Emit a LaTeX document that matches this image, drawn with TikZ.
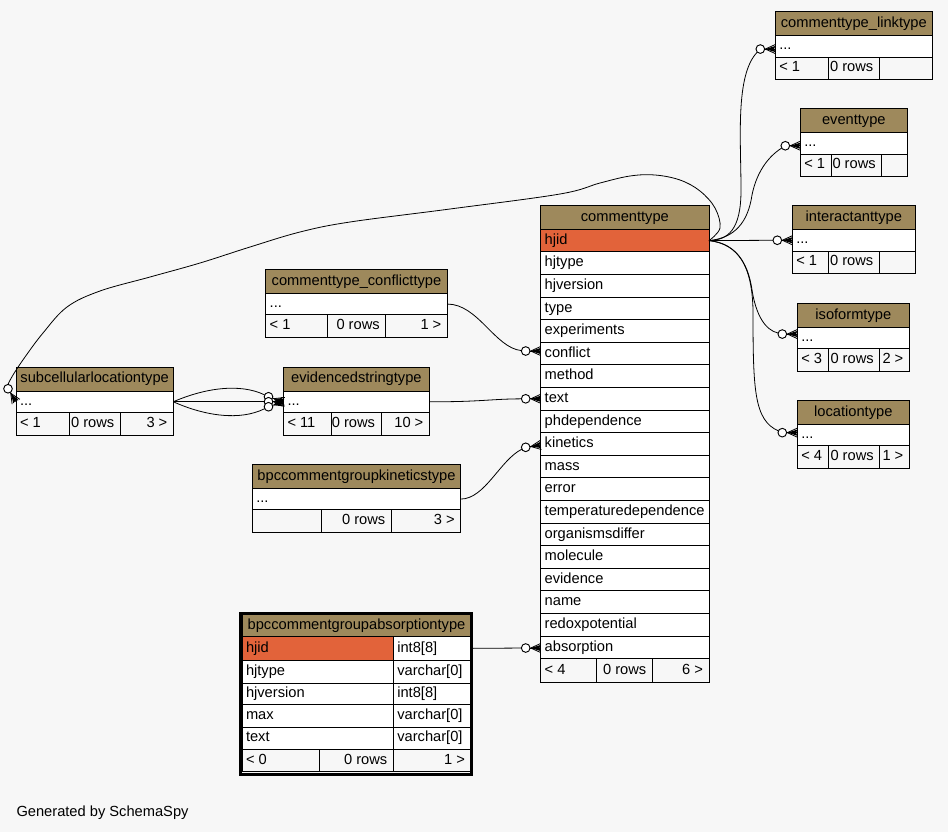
\documentclass[tikz,border=0pt]{standalone}
\usepackage{fontspec}
\setmainfont{Liberation Sans}
\usetikzlibrary{calc}

\definecolor{bgcol}{RGB}{247,247,247}
\definecolor{headcol}{RGB}{158,137,92}
\definecolor{keycol}{RGB}{226,99,58}

\tikzset{
  cellnode/.style={draw=black, line width=0.75pt, inner sep=0pt, outer sep=0pt, rectangle},
  txt/.style={inner sep=0pt, outer sep=0pt, text height=7.9pt, text depth=2.3pt},
  rel/.style={draw=black, line width=0.6pt},
  endcircle/.style={circle, draw=black, fill=white, line width=0.7pt, minimum size=6.5pt, inner sep=0pt, outer sep=0pt},
}

% one table cell: name, x1, y1, x2, y2, fill (pixel units, y downwards)
\newcommand\cellbox[6]{%
  \node[cellnode, fill=#6, minimum width={((#4)-(#2))*0.75pt},
        minimum height={((#5)-(#3))*0.75pt}, anchor=north west] (#1) at ({#2},{#3}) {};}
\newcommand\ltext[2]{\node[txt, anchor=west, xshift=3pt] (#1-t) at (#1.west) {#2};}
\newcommand\rtext[2]{\node[txt, anchor=east, xshift=-4.5pt] (#1-t) at (#1.east) {#2};}
\newcommand\ctext[2]{\node[txt] (#1-t) at (#1.center) {#2};}

% collapsed table: prefix, x1, x2, divider1, divider2, top, title, left footer, right footer
\newcommand\smalltable[9]{%
  \cellbox{#1}{#2}{#6}{#3}{#6+24}{headcol}
  \ctext{#1}{#7}
  \cellbox{#1-dots}{#2}{#6+24}{#3}{#6+45.5}{white}
  \ltext{#1-dots}{...}
  \cellbox{#1-f1}{#2}{#6+45.5}{#4}{#6+68}{bgcol}
  \ltext{#1-f1}{#8}
  \cellbox{#1-f2}{#4}{#6+45.5}{#5}{#6+68}{bgcol}
  \rtext{#1-f2}{0 rows}
  \cellbox{#1-f3}{#5}{#6+45.5}{#3}{#6+68}{bgcol}
  \rtext{#1-f3}{#9}
}

% "zero or many" end: crow's foot between an end circle and the port on the table
\newcommand\crow[2]{%
  \coordinate (#1-apex) at ($(#2)!7.5pt!(#1)$);
  \draw[rel] (#1) -- (#1-apex);
  \draw[rel] (#1-apex) -- ($(#2)!3.4pt!90:(#1)$);
  \draw[rel] (#1-apex) -- ($(#2)!3.4pt!-90:(#1)$);
  \draw[rel] (#1-apex) -- (#2);
  \fill (#1-apex) -- ($(#2)!2.3pt!90:(#1)$) -- ($(#2)!0.9pt!(#1)$) -- ($(#2)!2.3pt!-90:(#1)$) -- cycle;
}

\begin{document}
\begin{tikzpicture}[x=0.75pt, y=-0.75pt, font=\fontsize{11pt}{13pt}\selectfont]
\useasboundingbox (0,0) rectangle (948,832);
\fill[bgcol] (0,0) rectangle (948,832);

% ---------- collapsed tables ----------
\smalltable{lk}{775.3}{932.3}{828.7}{879.3}{11.5}{commenttype\_linktype}{< 1}{}
\smalltable{ev}{800.3}{907.3}{831.3}{881.7}{108.5}{eventtype}{< 1}{}
\smalltable{ia}{792.3}{915.3}{828.3}{879.3}{205.5}{interactanttype}{< 1}{}
\smalltable{iso}{797.3}{909.3}{828.7}{879.7}{303.3}{isoformtype}{< 3}{2 >}
\smalltable{loc}{797.3}{909.3}{828.7}{879.7}{400.3}{locationtype}{< 4}{1 >}
\smalltable{sub}{16}{173.3}{69.3}{120.3}{367}{subcellularlocationtype}{< 1}{3 >}
\smalltable{es}{283.5}{429.3}{331}{381}{367}{evidencedstringtype}{< 11}{10 >}
\smalltable{cc}{265.7}{447.3}{327.7}{385.7}{269.3}{commenttype\_conflicttype}{< 1}{1 >}
\smalltable{kin}{252.3}{460.7}{321.3}{391.3}{464.3}{bpccommentgroupkineticstype}{}{3 >}

% ---------- commenttype ----------
\cellbox{ct}{540.7}{205.7}{709}{229.3}{headcol}
\ctext{ct}{commenttype}
\cellbox{ct-hjid}{540.7}{229.3}{709}{251.9}{keycol}
\ltext{ct-hjid}{hjid}
\foreach \n [count=\i from 1] in {hjtype,hjversion,type,experiments,conflict,method,text,
    phdependence,kinetics,mass,error,temperaturedependence,organismsdiffer,molecule,
    evidence,name,redoxpotential,absorption} {
  \cellbox{ct-\n}{540.7}{229.3+22.6*\i}{709}{229.3+22.6*(\i+1)}{white}
  \ltext{ct-\n}{\n}
}
\cellbox{ct-f1}{540.7}{658.7}{596.7}{682.7}{bgcol}
\ltext{ct-f1}{< 4}
\cellbox{ct-f2}{596.7}{658.7}{652.3}{682.7}{bgcol}
\rtext{ct-f2}{0 rows}
\cellbox{ct-f3}{652.3}{658.7}{709}{682.7}{bgcol}
\rtext{ct-f3}{6 >}

% ---------- bpccommentgroupabsorptiontype ----------
\cellbox{abs}{242}{614}{471}{636.7}{headcol}
\ctext{abs}{bpccommentgroupabsorptiontype}
\cellbox{abs-hjid}{242}{636.7}{393.3}{660}{keycol}
\ltext{abs-hjid}{hjid}
\cellbox{abs-hjid-type}{393.3}{636.7}{471}{660}{white}
\ltext{abs-hjid-type}{int8[8]}
\cellbox{abs-hjtype}{242}{660}{393.3}{683.3}{white}
\ltext{abs-hjtype}{hjtype}
\cellbox{abs-hjtype-type}{393.3}{660}{471}{683.3}{white}
\ltext{abs-hjtype-type}{varchar[0]}
\cellbox{abs-hjversion}{242}{683.3}{393.3}{704.7}{white}
\ltext{abs-hjversion}{hjversion}
\cellbox{abs-hjversion-type}{393.3}{683.3}{471}{704.7}{white}
\ltext{abs-hjversion-type}{int8[8]}
\cellbox{abs-max}{242}{704.7}{393.3}{727}{white}
\ltext{abs-max}{max}
\cellbox{abs-max-type}{393.3}{704.7}{471}{727}{white}
\ltext{abs-max-type}{varchar[0]}
\cellbox{abs-text}{242}{727}{393.3}{749}{white}
\ltext{abs-text}{text}
\cellbox{abs-text-type}{393.3}{727}{471}{749}{white}
\ltext{abs-text-type}{varchar[0]}
\cellbox{abs-f1}{242}{749}{319.3}{771.7}{bgcol}
\ltext{abs-f1}{< 0}
\cellbox{abs-f2}{319.3}{749}{393.3}{771.7}{bgcol}
\rtext{abs-f2}{0 rows}
\cellbox{abs-f3}{393.3}{749}{471}{771.7}{bgcol}
\rtext{abs-f3}{1 >}
\node[draw=black, line width=2.25pt, inner sep=0pt, outer sep=0pt,
      minimum width={231*0.75pt}, minimum height={161.3*0.75pt}, anchor=north west]
      (abs-frame) at (240.8,613.2) {};

% ---------- ports and end circles ----------
\coordinate (p-link) at ($(lk-dots.west)+(0,2.8)$);
\coordinate (p-event) at ($(ev-dots.west)+(0,2.5)$);
\coordinate (p-inter) at (ia-dots.west);
\coordinate (p-iso) at ($(iso-dots.west)+(0,-4)$);
\coordinate (p-loc) at ($(loc-dots.west)+(0,-2.4)$);
\coordinate (p-sub) at (sub-dots.west);
\coordinate (p-es) at (es-dots.west);
\coordinate (p-conf) at ($(ct-conflict.west)+(0,-2.6)$);
\coordinate (p-text) at (ct-text.west);
\coordinate (p-kin) at ($(ct-kinetics.west)+(0,1)$);
\coordinate (p-abs) at ($(ct-absorption.west)+(0,0.6)$);

\node[endcircle] (o-link) at ($(p-link)+(-15,0)$) {};
\node[endcircle] (o-event) at ($(p-event)+(-15,0)$) {};
\node[endcircle] (o-inter) at ($(p-inter)+(-15,0)$) {};
\node[endcircle] (o-iso) at ($(p-iso)+(-15,0)$) {};
\node[endcircle] (o-loc) at ($(p-loc)+(-15,0)$) {};
\node[endcircle] (o-sub) at ($(p-sub)+(-8,-13)$) {};
\node[endcircle] (o-es1) at ($(p-es)+(-15,-5)$) {};
\node[endcircle] (o-es2) at ($(p-es)+(-15,0)$) {};
\node[endcircle] (o-es3) at ($(p-es)+(-15,5)$) {};
\node[endcircle] (o-conf) at ($(p-conf)+(-15,0)$) {};
\node[endcircle] (o-text) at ($(p-text)+(-15,0)$) {};
\node[endcircle] (o-kin) at ($(p-kin)+(-15,2.3)$) {};
\node[endcircle] (o-abs) at ($(p-abs)+(-15,0)$) {};

\crow{o-link}{p-link}
\crow{o-event}{p-event}
\crow{o-inter}{p-inter}
\crow{o-iso}{p-iso}
\crow{o-loc}{p-loc}
\crow{o-sub}{p-sub}
\crow{o-es1}{p-es}
\crow{o-es2}{p-es}
\crow{o-es3}{p-es}
\crow{o-conf}{p-conf}
\crow{o-text}{p-text}
\crow{o-kin}{p-kin}
\crow{o-abs}{p-abs}

% ---------- relationships ----------
\draw[rel] (ct-hjid.east) .. controls (728,240) and (741,230) .. (741,190)
           .. controls (741,140) and (735,75) .. (o-link);
\draw[rel] (ct-hjid.east) .. controls (735,238) and (748,222) .. (752,195)
           .. controls (756,175) and (766,158) .. (o-event);
\draw[rel] (ct-hjid.east) -- (o-inter);
\draw[rel] (ct-hjid.east) .. controls (735,243) and (748,262) .. (752,290)
           .. controls (756,315) and (765,330) .. (o-iso);
\draw[rel] (ct-hjid.east) .. controls (738,244) and (752,265) .. (753,310)
           .. controls (753,390) and (754,420) .. (o-loc);
\draw[rel] plot[smooth, tension=0.6] coordinates {(ct-hjid.east) (720,228) (715,208)
           (700,191) (680,180) (655,175) (630,176) (600,183) (560,194) (450,209)
           (350,222) (300,232) (250,247) (200,263) (150,277) (100,291) (67,307)
           (43,333) (25,357) (13,375) (o-sub.north)};

\draw[rel] (sub-dots.east) -- (o-es2);
\draw[rel] (sub-dots.east) .. controls (205,388) and (240,383) .. (o-es1);
\draw[rel] (sub-dots.east) .. controls (205,416) and (240,421) .. (o-es3);

\draw[rel] (cc-dots.east) .. controls (478,304) and (495,348) .. (o-conf);
\draw[rel] (es-dots.east) .. controls (480,402) and (490,399) .. (o-text);
\draw[rel] (kin-dots.east) .. controls (485,499) and (500,460) .. (o-kin);
\draw[rel] (abs-hjid-type.east) -- (o-abs);

% ---------- footer ----------
\node[txt, anchor=base west] (credit) at (16.5,816) {Generated by SchemaSpy};
\end{tikzpicture}
\end{document}
